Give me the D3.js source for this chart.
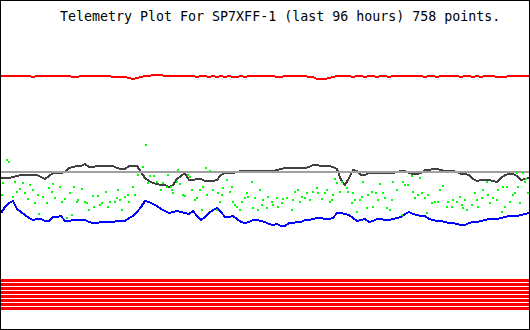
<!DOCTYPE html>
<html>
<head>
<meta charset="utf-8">
<script src="https://cdn.jsdelivr.net/npm/d3@7"></script>
<style>
  html, body { margin: 0; padding: 0; background: #fff; }
  svg { display: block; }
</style>
</head>
<body>
<div id="chart"></div>
<script>
// telemetry channels, 96 hours, sampled evenly over the window
const hoursSpan = 96;

const redValues = [
  235,235,235,235,235,235,235,235,234,235,235,235,235,235,235,235,235,235,234,234,
  235,235,235,235,235,235,235,235,234,234,234,234,233,232,233,234,235,235,236,236,
  236,235,235,235,235,235,235,235,235,234,235,235,234,235,234,235,234,235,234,234,
  235,234,235,235,235,235,235,235,235,234,234,235,235,235,235,235,235,234,234,232,
  232,232,233,234,235,235,235,235,234,235,235,234,235,235,234,235,235,234,235,235,
  235,235,235,235,235,235,234,235,235,234,235,235,235,235,235,234,235,235,234,235,
  234,235,235,235,234,234,234,235,235,235,235,235,235
];

const darkValues = [
  133,133,133,134,135,136,136,136,136,136,134,132,135,138,138,138,139,143,144,145,
  145,147,144,144,145,145,145,145,145,143,142,142,145,145,145,139,133,130,128,127,
  126,126,124,126,132,135,138,131,131,132,132,130,130,130,131,136,138,138,138,139,
  140,140,140,140,140,140,140,140,140,141,142,143,143,143,143,143,143,144,146,146,
  145,145,145,144,142,131,126,133,141,140,136,136,138,138,138,138,138,138,138,139,
  140,140,138,137,137,138,141,141,142,142,141,140,140,140,139,137,137,136,132,130,
  131,131,131,130,129,133,136,137,137,135,131,132,133
];

const blueValues = [
  98,104,108,110,102,99,96,93,91,92,92,90,90,94,94,95,90,90,91,91,
  91,91,89,88,88,89,89,89,89,90,90,90,93,95,99,104,110,109,107,105,
  102,100,98,99,100,99,98,97,100,95,91,94,98,101,103,99,94,94,95,92,
  89,88,89,91,91,90,89,87,86,87,85,85,88,88,89,89,91,91,92,93,
  93,92,92,93,98,98,97,96,93,90,91,92,89,90,92,92,91,91,92,93,
  94,97,99,97,96,95,95,92,91,90,90,89,88,88,87,86,86,88,89,89,
  90,91,92,92,92,93,94,95,95,95,96,97,98
];

// [hours since start, value]
const greenPoints = [
  [0.2,116],[0.4,128],[1.1,151],[1.5,149],[2.2,114],[2.5,129],[2.9,119],[3.5,122],[4.0,128],[4.4,118],
  [4.9,112],[5.3,126],[5.8,121],[6.2,108],[6.7,116],[6.9,97],[7.6,114],[8.4,108],[8.7,123],[9.3,119],
  [9.5,127],[9.8,113],[10.7,124],[11.1,109],[11.6,112],[12.0,93],[12.5,118],[12.9,96],[13.3,124],[13.8,109],
  [14.0,111],[14.7,122],[15.3,109],[15.6,108],[16.0,101],[16.7,115],[16.9,104],[17.6,115],[18.0,106],[18.4,108],
  [19.1,119],[19.5,104],[19.8,109],[20.7,109],[21.1,113],[21.3,121],[21.6,111],[22.0,101],[22.5,114],[23.1,116],
  [23.3,109],[24.0,124],[24.4,116],[24.9,136],[25.8,144],[26.4,166],[26.7,128],[27.1,135],[27.8,135],[28.4,129],
  [29.1,121],[29.5,128],[30.2,124],[30.4,136],[30.9,124],[31.3,118],[32.0,129],[32.2,141],[31.1,121],[32.5,127],
  [33.1,116],[33.5,115],[34.0,136],[34.4,134],[34.7,121],[35.3,111],[35.6,113],[36.2,121],[36.5,101],[36.7,124],
  [37.3,143],[37.5,116],[38.0,140],[38.5,121],[39.3,101],[39.5,118],[39.8,109],[40.2,116],[40.4,123],[41.1,131],
  [41.6,119],[42.0,124],[42.2,109],[42.5,106],[42.9,104],[43.5,101],[43.8,109],[44.4,113],[44.7,118],[44.9,114],
  [45.6,129],[45.8,103],[46.2,113],[46.7,101],[47.1,121],[47.5,106],[47.6,111],[48.4,103],[48.5,114],[49.3,109],
  [49.5,106],[50.2,113],[50.4,104],[51.1,108],[51.3,112],[52.0,113],[52.9,101],[53.1,111],[53.5,119],[54.0,121],
  [54.4,109],[54.7,114],[55.3,113],[55.6,118],[56.2,111],[56.7,119],[57.5,123],[57.6,118],[58.4,112],[58.9,118],
  [59.3,121],[59.8,109],[60.2,111],[60.4,116],[60.7,132],[61.1,128],[61.6,119],[62.0,129],[62.9,123],[63.1,119],
  [63.8,108],[64.0,118],[64.4,111],[64.7,99],[65.3,111],[65.6,114],[65.8,129],[66.5,103],[66.7,116],[67.5,119],
  [67.6,104],[68.2,118],[68.5,111],[68.9,127],[69.5,118],[69.8,113],[70.2,103],[70.7,101],[71.1,111],[71.3,129],
  [72.0,121],[72.9,96],[73.1,129],[73.5,126],[74.0,126],[74.7,135],[74.9,119],[75.3,113],[75.8,116],[76.2,133],
  [76.5,118],[77.1,113],[77.5,98],[77.6,116],[78.4,108],[78.9,109],[79.5,109],[79.8,121],[80.4,125],[81.1,104],
  [81.3,109],[82.0,104],[82.2,111],[82.9,109],[83.5,114],[83.8,106],[84.0,103],[84.4,111],[84.7,101],[85.6,106],
  [86.2,118],[86.5,111],[86.7,104],[87.5,113],[87.6,121],[88.4,129],[88.5,116],[88.9,108],[89.5,113],[90.2,111],
  [90.4,121],[91.1,99],[91.3,124],[91.6,104],[92.0,124],[92.5,109],[93.1,116],[93.5,118],[93.8,138],[94.0,124],
  [94.4,108],[94.9,138],[95.3,129],[95.5,132],[95.8,118]
];

// status bits, drawn as flat bands at the bottom
const stripeLevels = [30, 26, 22, 18, 14, 10, 6, 2];
const thresholdLevel = 139;

const title = 'Telemetry Plot For SP7XFF-1 (last 96 hours) 758 points.';

const W = 530, H = 330;

const svg = d3.select('#chart').append('svg')
  .attr('width', W)
  .attr('height', H)
  .attr('shape-rendering', 'crispEdges');

const x = d3.scaleLinear().domain([0, hoursSpan]).range([1, 529]);
const y = d3.scaleLinear().domain([0, 255]).range([311, 56]);

function series(values) {
  const step = hoursSpan / (values.length - 1);
  return values.map((v, i) => [i * step, v]);
}

const line = d3.line()
  .x(d => x(d[0]))
  .y(d => y(d[1]));

svg.append('rect')
  .attr('x', 0).attr('y', 0)
  .attr('width', W).attr('height', H)
  .attr('fill', '#fff');

// bottom status bands
svg.append('g').selectAll('line')
  .data(stripeLevels)
  .enter()
  .append('line')
  .attr('x1', x(0))
  .attr('x2', x(hoursSpan))
  .attr('y1', d => y(d) - 0.5)
  .attr('y2', d => y(d) - 0.5)
  .attr('stroke', '#ff0000')
  .attr('stroke-width', 3);

svg.append('path')
  .datum(series(redValues))
  .attr('d', line)
  .attr('fill', 'none')
  .attr('stroke', '#ff0000')
  .attr('stroke-width', 2);

svg.append('path')
  .datum(series(darkValues))
  .attr('d', line)
  .attr('fill', 'none')
  .attr('stroke', '#404040')
  .attr('stroke-width', 2);

svg.append('line')
  .attr('x1', x(0))
  .attr('x2', x(hoursSpan))
  .attr('y1', y(thresholdLevel))
  .attr('y2', y(thresholdLevel))
  .attr('stroke', '#a0a0a0')
  .attr('stroke-width', 2);

svg.append('path')
  .datum(series(blueValues))
  .attr('d', line)
  .attr('fill', 'none')
  .attr('stroke', '#0000ff')
  .attr('stroke-width', 2);

svg.append('g').selectAll('rect')
  .data(greenPoints)
  .enter()
  .append('rect')
  .attr('x', d => Math.round(x(d[0])) - 1)
  .attr('y', d => Math.round(y(d[1])) - 1)
  .attr('width', 2)
  .attr('height', 2)
  .attr('fill', '#00ff00');

svg.append('text')
  .attr('x', 60)
  .attr('y', 21)
  .attr('font-family', '"DejaVu Sans Mono", "Liberation Mono", monospace')
  .attr('font-size', 13.3)
  .attr('fill', '#000')
  .text(title);

// frame
svg.append('rect')
  .attr('x', 0.5).attr('y', 0.5)
  .attr('width', 529).attr('height', 329)
  .attr('fill', 'none')
  .attr('stroke', '#000')
  .attr('stroke-width', 1);
</script>
</body>
</html>
